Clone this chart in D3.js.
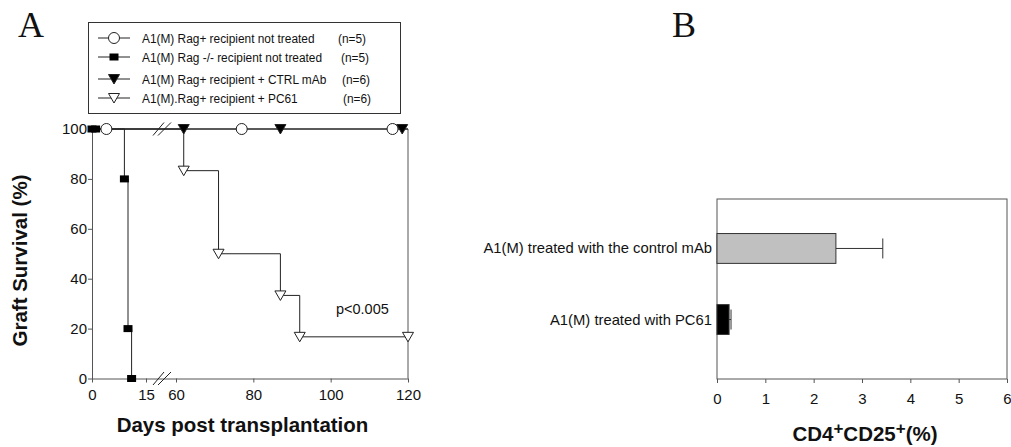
<!DOCTYPE html>
<html><head><meta charset="utf-8">
<script src="https://cdn.jsdelivr.net/npm/d3@7"></script>
<style>
body{margin:0;background:#fff}
svg text{font-family:"Liberation Sans",Arial,Helvetica,sans-serif;fill:#111}
</style>
</head><body>
<svg id="c" width="1011" height="447"></svg>
<script>
// ---------- Panel A data ----------
const legendLabels = [
  "A1(M) Rag+ recipient not treated",
  "A1(M) Rag -/- recipient not treated",
  "A1(M) Rag+ recipient + CTRL mAb",
  "A1(M).Rag+ recipient + PC61"
];
const legendN = ["(n=5)", "(n=5)", "(n=6)", "(n=6)"];

// Kaplan-Meier events (days, % survival)
const circleDays = [4, 77, 116];
const circleSurv = [100, 100, 100];
const squareDays = [0, 1, 9, 10, 11];
const squareSurv = [100, 100, 80, 20, 0];
const filledTriDays = [62, 87, 118.5];
const filledTriSurv = [100, 100, 100];
const openTriDays = [62, 71, 87, 92, 120];
const openTriSurv = [83.3, 50, 33.3, 16.7, 16.7];

const xTicksA = [0, 15, 60, 80, 100, 120];
const yTicksA = [0, 20, 40, 60, 80, 100];
const pValueText = "p<0.005";

// ---------- Panel B data ----------
const barCategories = ["A1(M) treated with the control mAb", "A1(M) treated with PC61"];
const barMeans = [2.46, 0.25];
const barErrors = [0.97, 0.04];
const xTicksB = [0, 1, 2, 3, 4, 5, 6];

// ---------- drawing ----------
const svg = d3.select("#c");
const AX = "#555", LN = "#222";

// Panel A scales (broken axis: 0-15 | 60-120)
const xA = d3.scaleLinear().domain([0, 15, 60, 120]).range([92, 146, 176, 408]);
const yA = d3.scaleLinear().domain([0, 100]).range([378.5, 129]);

// panel letters
svg.append("text").attr("x", 18).attr("y", 37)
  .style("font-family", "'Liberation Serif','Times New Roman',serif").style("font-size", "36px").text("A");
svg.append("text").attr("x", 672).attr("y", 37)
  .style("font-family", "'Liberation Serif','Times New Roman',serif").style("font-size", "36px").text("B");

// axes A
const gyA = svg.append("g").attr("transform", `translate(${xA(0)},0)`)
  .call(d3.axisLeft(yA).tickValues(yTicksA).tickSize(4).tickSizeOuter(0).tickPadding(1));
const gxA = svg.append("g").attr("transform", `translate(0,${yA(0)})`)
  .call(d3.axisBottom(xA).tickValues(xTicksA).tickSize(4).tickSizeOuter(0).tickPadding(7));
[gyA, gxA].forEach(g => {
  g.selectAll("path,line").attr("stroke", AX);
  g.selectAll("text").style("font-size", "15px").attr("fill", "#111");
});
// right frame line
svg.append("line").attr("x1", xA(120)).attr("x2", xA(120)).attr("y1", yA(100)).attr("y2", yA(0))
  .attr("stroke", AX);

// step curves
const step = d3.line().x(d => xA(d[0])).y(d => yA(d[1])).curve(d3.curveStepAfter);
const curves = [
  [[0, 100]].concat(circleDays.map((d, i) => [d, circleSurv[i]]), [[120, 100]]),
  squareDays.map((d, i) => [d, squareSurv[i]]),
  [[0, 100]].concat(filledTriDays.map((d, i) => [d, filledTriSurv[i]]), [[120, 100]]),
  [[0, 100]].concat(openTriDays.map((d, i) => [d, openTriSurv[i]]))
];
curves.forEach(c => svg.append("path").attr("d", step(c)).attr("fill", "none")
  .attr("stroke", LN).attr("stroke-width", 1));

// break marks
function breakMarks(y) {
  [[153, 164], [158, 171]].forEach(([a, b]) =>
    svg.append("line").attr("x1", a).attr("y1", y + 6.5).attr("x2", b).attr("y2", y - 6.5)
      .attr("stroke", LN).attr("stroke-width", 1));
}
breakMarks(yA(0));
breakMarks(yA(100));

// marker symbols
function marker(g, type, x, y) {
  if (type === "circle") {
    g.append("circle").attr("cx", x).attr("cy", y).attr("r", 5.5)
      .attr("fill", "#fff").attr("stroke", LN);
  } else if (type === "square") {
    g.append("rect").attr("x", x - 4.5).attr("y", y - 3.5).attr("width", 9).attr("height", 7)
      .attr("fill", "#000");
  } else {
    const filled = type === "ftri";
    g.append("path").attr("d", `M${x - 5.5},${y - 4.5}L${x + 5.5},${y - 4.5}L${x},${y + 5}Z`)
      .attr("fill", filled ? "#000" : "#fff").attr("stroke", LN);
  }
}
const mg = svg.append("g");
squareDays.forEach((d, i) => marker(mg, "square", xA(d), yA(squareSurv[i])));
circleDays.forEach((d, i) => marker(mg, "circle", xA(d), yA(circleSurv[i])));
openTriDays.forEach((d, i) => marker(mg, "otri", xA(d), yA(openTriSurv[i])));
filledTriDays.forEach((d, i) => marker(mg, "ftri", xA(d), yA(filledTriSurv[i])));

// p value
svg.append("text").attr("x", 336).attr("y", 314).style("font-size", "14.5px").text(pValueText);

// axis titles A
svg.append("text").attr("transform", "translate(27,260.5) rotate(-90)").attr("text-anchor", "middle")
  .style("font-size", "20.5px").style("font-weight", "bold").text("Graft Survival (%)");
svg.append("text").attr("x", 242.5).attr("y", 432).attr("text-anchor", "middle")
  .style("font-size", "20.5px").style("font-weight", "bold").text("Days post transplantation");

// legend
svg.append("rect").attr("x", 88.5).attr("y", 22.5).attr("width", 312).attr("height", 91)
  .attr("fill", "#fff").attr("stroke", "#333");
const legTypes = ["circle", "square", "ftri", "otri"];
const legY = [38, 57, 79, 98];
const nX = [338, 341, 342, 343];
legendLabels.forEach((lab, i) => {
  const y = legY[i];
  svg.append("line").attr("x1", 98).attr("x2", 130).attr("y1", y).attr("y2", y).attr("stroke", LN);
  marker(svg, legTypes[i], 114, y);
  svg.append("text").attr("transform", `translate(142,${y + 5}) scale(0.88,1)`)
    .style("font-size", "13.5px").text(lab);
  svg.append("text").attr("transform", `translate(${nX[i]},${y + 5}) scale(0.88,1)`)
    .style("font-size", "13.5px").text(legendN[i]);
});

// ---------- Panel B ----------
const xB = d3.scaleLinear().domain([0, 6]).range([717, 1007]);
const yB = d3.scaleBand().domain(barCategories).range([198, 370]).paddingInner(0.58).paddingOuter(0.5);
const frameB = {top: 199, bottom: 379};
svg.append("rect").attr("x", xB(0)).attr("y", frameB.top).attr("width", xB(6) - xB(0))
  .attr("height", frameB.bottom - frameB.top).attr("fill", "none").attr("stroke", AX);
const barFill = ["#c0c0c0", "#000"];
barCategories.forEach((c, i) => {
  const y0 = yB(c), h = yB.bandwidth(), cy = y0 + h / 2;
  svg.append("line").attr("x1", xB(barMeans[i])).attr("x2", xB(barMeans[i] + barErrors[i]))
    .attr("y1", cy).attr("y2", cy).attr("stroke", "#333");
  svg.append("line").attr("x1", xB(barMeans[i] + barErrors[i])).attr("x2", xB(barMeans[i] + barErrors[i]))
    .attr("y1", cy - 10).attr("y2", cy + 10).attr("stroke", "#333");
  svg.append("rect").attr("x", xB(0)).attr("y", y0).attr("width", xB(barMeans[i]) - xB(0))
    .attr("height", h).attr("fill", barFill[i]).attr("stroke", "#333");
  svg.append("text").attr("x", 712).attr("y", cy + 5).attr("text-anchor", "end")
    .style("font-size", "14.8px").text(c);
});
const gxB = svg.append("g").attr("transform", `translate(0,${frameB.bottom})`)
  .call(d3.axisBottom(xB).tickValues(xTicksB).tickFormat(d3.format("d")).tickSize(4).tickSizeOuter(0).tickPadding(10));
gxB.select(".domain").remove();
gxB.selectAll("line").attr("stroke", AX);
gxB.selectAll("text").style("font-size", "15px").attr("fill", "#111");

const tB = svg.append("text").attr("x", 865).attr("y", 441).attr("text-anchor", "middle")
  .style("font-size", "20.5px").style("font-weight", "bold");
tB.append("tspan").text("CD4");
tB.append("tspan").attr("dy", -7).style("font-size", "17px").text("+");
tB.append("tspan").attr("dy", 7).text("CD25");
tB.append("tspan").attr("dy", -7).style("font-size", "17px").text("+");
tB.append("tspan").attr("dy", 7).text("(%)");
</script>
</body></html>
